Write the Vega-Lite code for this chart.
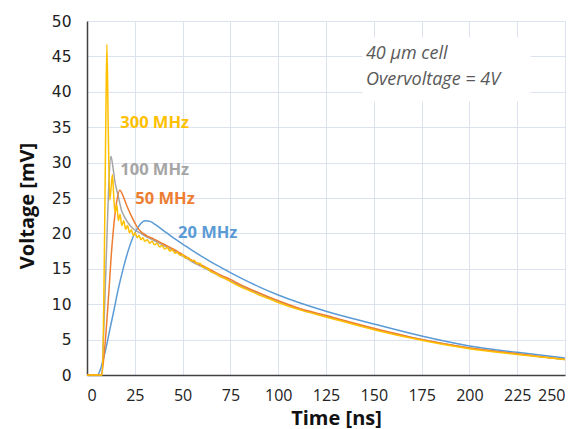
{
  "$schema": "https://vega.github.io/schema/vega-lite/v6.json",
  "width": 478,
  "height": 354,
  "autosize": "none",
  "padding": {"left": 87, "top": 21, "right": 22, "bottom": 54},
  "background": "white",
  "config": {"view": {"stroke": null}},
  "datasets": {
    "curves": [
      {"s": "20 MHz", "t": 0, "v": 0}, {"s": "20 MHz", "t": 5.5, "v": 0}, {"s": "20 MHz", "t": 7, "v": 0.8}, {"s": "20 MHz", "t": 8.5, "v": 2.2}, {"s": "20 MHz", "t": 10.5, "v": 4.5}, {"s": "20 MHz", "t": 12, "v": 6.5}, {"s": "20 MHz", "t": 13.9, "v": 8.9}, {"s": "20 MHz", "t": 16, "v": 11.7}, {"s": "20 MHz", "t": 19.2, "v": 15.3}, {"s": "20 MHz", "t": 21.6, "v": 17.6}, {"s": "20 MHz", "t": 24.4, "v": 19.7}, {"s": "20 MHz", "t": 27, "v": 21.0}, {"s": "20 MHz", "t": 30.5, "v": 21.8}, {"s": "20 MHz", "t": 33, "v": 21.7}, {"s": "20 MHz", "t": 36, "v": 21.2}, {"s": "20 MHz", "t": 40, "v": 20.4}, {"s": "20 MHz", "t": 45, "v": 19.4}, {"s": "20 MHz", "t": 50, "v": 18.5}, {"s": "20 MHz", "t": 55, "v": 17.6}, {"s": "20 MHz", "t": 60, "v": 16.75}, {"s": "20 MHz", "t": 65, "v": 15.95}, {"s": "20 MHz", "t": 70, "v": 15.2}, {"s": "20 MHz", "t": 75, "v": 14.45}, {"s": "20 MHz", "t": 80, "v": 13.75}, {"s": "20 MHz", "t": 90, "v": 12.45}, {"s": "20 MHz", "t": 100, "v": 11.3}, {"s": "20 MHz", "t": 110, "v": 10.3}, {"s": "20 MHz", "t": 125, "v": 9.0}, {"s": "20 MHz", "t": 150, "v": 7.2}, {"s": "20 MHz", "t": 175, "v": 5.5}, {"s": "20 MHz", "t": 200, "v": 4.1}, {"s": "20 MHz", "t": 225, "v": 3.2}, {"s": "20 MHz", "t": 250, "v": 2.4},
      {"s": "100 MHz", "t": 0, "v": 0}, {"s": "100 MHz", "t": 7.5, "v": 0}, {"s": "100 MHz", "t": 9, "v": 8}, {"s": "100 MHz", "t": 10.5, "v": 20}, {"s": "100 MHz", "t": 11.5, "v": 27.5}, {"s": "100 MHz", "t": 12.5, "v": 30.9}, {"s": "100 MHz", "t": 13.5, "v": 29.5}, {"s": "100 MHz", "t": 14.5, "v": 27.5}, {"s": "100 MHz", "t": 16.4, "v": 25.2}, {"s": "100 MHz", "t": 18, "v": 23.3}, {"s": "100 MHz", "t": 19.9, "v": 22.2}, {"s": "100 MHz", "t": 22, "v": 21.3}, {"s": "100 MHz", "t": 24, "v": 20.7}, {"s": "100 MHz", "t": 26.8, "v": 20.2}, {"s": "100 MHz", "t": 30, "v": 19.7}, {"s": "100 MHz", "t": 35, "v": 19.0}, {"s": "100 MHz", "t": 40, "v": 18.3}, {"s": "100 MHz", "t": 45, "v": 17.6}, {"s": "100 MHz", "t": 50, "v": 16.8}, {"s": "100 MHz", "t": 55, "v": 16.0}, {"s": "100 MHz", "t": 60, "v": 15.3}, {"s": "100 MHz", "t": 65, "v": 14.6}, {"s": "100 MHz", "t": 70, "v": 13.9}, {"s": "100 MHz", "t": 75, "v": 13.3}, {"s": "100 MHz", "t": 80, "v": 12.6}, {"s": "100 MHz", "t": 90, "v": 11.5}, {"s": "100 MHz", "t": 100, "v": 10.4}, {"s": "100 MHz", "t": 110, "v": 9.4}, {"s": "100 MHz", "t": 125, "v": 8.3}, {"s": "100 MHz", "t": 150, "v": 6.5}, {"s": "100 MHz", "t": 175, "v": 5.0}, {"s": "100 MHz", "t": 200, "v": 3.8}, {"s": "100 MHz", "t": 225, "v": 3.0}, {"s": "100 MHz", "t": 250, "v": 2.2},
      {"s": "50 MHz", "t": 0, "v": 0}, {"s": "50 MHz", "t": 7.5, "v": 0}, {"s": "50 MHz", "t": 9, "v": 3}, {"s": "50 MHz", "t": 11, "v": 10}, {"s": "50 MHz", "t": 13, "v": 18}, {"s": "50 MHz", "t": 15, "v": 23.5}, {"s": "50 MHz", "t": 17.2, "v": 26.1}, {"s": "50 MHz", "t": 19, "v": 25.2}, {"s": "50 MHz", "t": 21, "v": 23.8}, {"s": "50 MHz", "t": 23.3, "v": 22.4}, {"s": "50 MHz", "t": 26, "v": 21.0}, {"s": "50 MHz", "t": 28, "v": 20.3}, {"s": "50 MHz", "t": 31, "v": 19.7}, {"s": "50 MHz", "t": 35, "v": 19.2}, {"s": "50 MHz", "t": 40, "v": 18.5}, {"s": "50 MHz", "t": 45, "v": 17.8}, {"s": "50 MHz", "t": 50, "v": 17.0}, {"s": "50 MHz", "t": 55, "v": 16.2}, {"s": "50 MHz", "t": 60, "v": 15.5}, {"s": "50 MHz", "t": 65, "v": 14.8}, {"s": "50 MHz", "t": 70, "v": 14.1}, {"s": "50 MHz", "t": 75, "v": 13.5}, {"s": "50 MHz", "t": 80, "v": 12.8}, {"s": "50 MHz", "t": 90, "v": 11.6}, {"s": "50 MHz", "t": 100, "v": 10.5}, {"s": "50 MHz", "t": 110, "v": 9.5}, {"s": "50 MHz", "t": 125, "v": 8.4}, {"s": "50 MHz", "t": 150, "v": 6.6}, {"s": "50 MHz", "t": 175, "v": 5.0}, {"s": "50 MHz", "t": 200, "v": 3.8}, {"s": "50 MHz", "t": 225, "v": 3.0}, {"s": "50 MHz", "t": 250, "v": 2.2},
      {"s": "300 MHz", "t": 0, "v": 0}, {"s": "300 MHz", "t": 8, "v": 0}, {"s": "300 MHz", "t": 9, "v": 15}, {"s": "300 MHz", "t": 9.8, "v": 35}, {"s": "300 MHz", "t": 10.4, "v": 46.7}, {"s": "300 MHz", "t": 11.1, "v": 35}, {"s": "300 MHz", "t": 11.9, "v": 24.7}, {"s": "300 MHz", "t": 12.6, "v": 26.5}, {"s": "300 MHz", "t": 13.3, "v": 28.3}, {"s": "300 MHz", "t": 14, "v": 25.2}, {"s": "300 MHz", "t": 14.7, "v": 22.9}, {"s": "300 MHz", "t": 15.6, "v": 24.0}, {"s": "300 MHz", "t": 16.4, "v": 21.8}, {"s": "300 MHz", "t": 17.3, "v": 22.7}, {"s": "300 MHz", "t": 18.2, "v": 21.1}, {"s": "300 MHz", "t": 19.2, "v": 21.8}, {"s": "300 MHz", "t": 20.2, "v": 20.6}, {"s": "300 MHz", "t": 21.2, "v": 21.1}, {"s": "300 MHz", "t": 22.2, "v": 20.1}, {"s": "300 MHz", "t": 23.2, "v": 20.5}, {"s": "300 MHz", "t": 24.2, "v": 19.7}, {"s": "300 MHz", "t": 25.2, "v": 20.1}, {"s": "300 MHz", "t": 26.2, "v": 19.4}, {"s": "300 MHz", "t": 27.2, "v": 19.7}, {"s": "300 MHz", "t": 28.2, "v": 19.1}, {"s": "300 MHz", "t": 29.2, "v": 19.4}, {"s": "300 MHz", "t": 30.2, "v": 18.9}, {"s": "300 MHz", "t": 31.5, "v": 19.1}, {"s": "300 MHz", "t": 32.8, "v": 18.6}, {"s": "300 MHz", "t": 34, "v": 18.9}, {"s": "300 MHz", "t": 35.3, "v": 18.4}, {"s": "300 MHz", "t": 36.6, "v": 18.6}, {"s": "300 MHz", "t": 38, "v": 18.1}, {"s": "300 MHz", "t": 39.3, "v": 18.3}, {"s": "300 MHz", "t": 40.6, "v": 17.8}, {"s": "300 MHz", "t": 42, "v": 18.0}, {"s": "300 MHz", "t": 43.3, "v": 17.5}, {"s": "300 MHz", "t": 44.6, "v": 17.7}, {"s": "300 MHz", "t": 46, "v": 17.2}, {"s": "300 MHz", "t": 47.3, "v": 17.35}, {"s": "300 MHz", "t": 48.6, "v": 16.9}, {"s": "300 MHz", "t": 50, "v": 17.0}, {"s": "300 MHz", "t": 51.5, "v": 16.5}, {"s": "300 MHz", "t": 53, "v": 16.6}, {"s": "300 MHz", "t": 54.5, "v": 16.1}, {"s": "300 MHz", "t": 56, "v": 16.2}, {"s": "300 MHz", "t": 57.5, "v": 15.7}, {"s": "300 MHz", "t": 59, "v": 15.8}, {"s": "300 MHz", "t": 60.5, "v": 15.25}, {"s": "300 MHz", "t": 62.5, "v": 15.15}, {"s": "300 MHz", "t": 65, "v": 14.55}, {"s": "300 MHz", "t": 67.5, "v": 14.3}, {"s": "300 MHz", "t": 70, "v": 13.85}, {"s": "300 MHz", "t": 72.5, "v": 13.6}, {"s": "300 MHz", "t": 75, "v": 13.2}, {"s": "300 MHz", "t": 80, "v": 12.5}, {"s": "300 MHz", "t": 85, "v": 11.9}, {"s": "300 MHz", "t": 90, "v": 11.3}, {"s": "300 MHz", "t": 95, "v": 10.8}, {"s": "300 MHz", "t": 100, "v": 10.25}, {"s": "300 MHz", "t": 110, "v": 9.3}, {"s": "300 MHz", "t": 125, "v": 8.2}, {"s": "300 MHz", "t": 150, "v": 6.4}, {"s": "300 MHz", "t": 175, "v": 4.9}, {"s": "300 MHz", "t": 200, "v": 3.7}, {"s": "300 MHz", "t": 225, "v": 2.9}, {"s": "300 MHz", "t": 250, "v": 2.2}
    ],
    "labels": [
      {"s": "300 MHz", "t": 17.4, "v": 35.6},
      {"s": "100 MHz", "t": 17.4, "v": 29.0},
      {"s": "50 MHz", "t": 25.3, "v": 24.9},
      {"s": "20 MHz", "t": 47.6, "v": 20.0}
    ],
    "box": [{"t": 144, "t2": 232, "v": 38.6, "v2": 47.7}],
    "note": [
      {"line": "40 µm cell", "t": 145.9, "v": 44.6},
      {"line": "Overvoltage = 4V", "t": 145.9, "v": 41.0}
    ]
  },
  "encoding": {
    "x": {
      "field": "t", "type": "quantitative",
      "scale": {"domain": [0, 250], "nice": false},
      "axis": {
        "title": "Time [ns]", "values": [0, 25, 50, 75, 100, 125, 150, 175, 200, 225, 250],
        "grid": true, "gridColor": "#dce3ee", "gridWidth": 1, "labelOverlap": false,
        "domainColor": "#404040", "domainWidth": 1.5, "ticks": false,
        "labelFont": "Open Sans", "labelFontSize": 16, "labelColor": "#222222", "labelPadding": 12,
        "titleFont": "Open Sans", "titleFontSize": 20, "titleFontWeight": "bold", "titleColor": "#111111",
        "titleX": 249, "titleY": 49, "titleBaseline": "alphabetic"
      }
    },
    "y": {
      "field": "v", "type": "quantitative",
      "scale": {"domain": [0, 50], "nice": false},
      "axis": {
        "title": "Voltage [mV]", "values": [0, 5, 10, 15, 20, 25, 30, 35, 40, 45, 50],
        "grid": true, "gridColor": "#dce3ee", "gridWidth": 1, "labelOverlap": false,
        "domainColor": "#404040", "domainWidth": 1.5, "ticks": false,
        "labelFont": "DejaVu Sans", "labelFontSize": 15.5, "labelColor": "#222222", "labelPadding": 16,
        "titleFont": "Open Sans", "titleFontSize": 20, "titleFontWeight": "bold", "titleColor": "#111111",
        "titleX": -60, "titleY": 184.5, "titleBaseline": "middle"
      }
    }
  },
  "layer": [
    {
      "data": {"name": "curves"},
      "mark": {"type": "line", "strokeWidth": 1.5, "interpolate": "monotone"},
      "encoding": {
        "color": {
          "field": "s", "type": "nominal",
          "scale": {"domain": ["20 MHz", "50 MHz", "100 MHz", "300 MHz"], "range": ["#5B9BD5", "#ED7D31", "#A5A5A5", "#FFC000"]},
          "legend": null
        },
        "order": {"field": "t", "type": "quantitative"}
      }
    },
    {
      "data": {"name": "labels"},
      "mark": {"type": "text", "align": "left", "baseline": "middle", "font": "Open Sans", "fontSize": 16.5, "fontWeight": "bold"},
      "encoding": {
        "text": {"field": "s"},
        "color": {"field": "s", "type": "nominal", "legend": null}
      }
    },
    {
      "data": {"name": "box"},
      "mark": {"type": "rect", "fill": "white", "stroke": null},
      "encoding": {
        "x2": {"field": "t2"},
        "y2": {"field": "v2"}
      }
    },
    {
      "data": {"name": "note"},
      "mark": {"type": "text", "align": "left", "baseline": "alphabetic", "font": "Open Sans", "fontSize": 18, "fontStyle": "italic", "color": "#595959"},
      "encoding": {
        "text": {"field": "line"}
      }
    }
  ]
}
